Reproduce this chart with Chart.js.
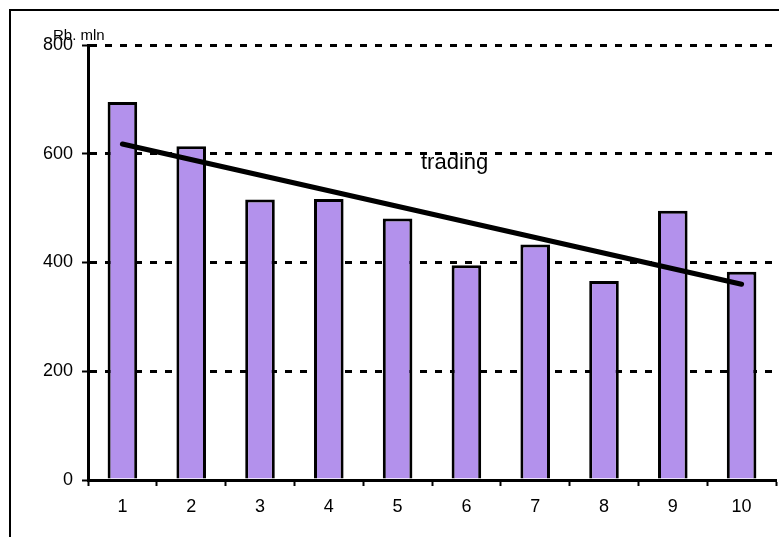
<!DOCTYPE html>
<html><head><meta charset="utf-8">
<script src="https://cdn.jsdelivr.net/npm/chart.js@4/dist/chart.umd.min.js"></script>
<style>html,body{margin:0;padding:0;background:#fff;}canvas{display:block;}</style>
</head><body>
<canvas id="c" width="779" height="537"></canvas>
<script>
const categories = ['1','2','3','4','5','6','7','8','9','10'];
const tradingValues = [695, 614, 516, 517, 481, 395, 433, 366, 495, 383];
const trendValues = [618, null, null, null, null, null, null, null, null, 360];
const yTicks = [0, 200, 400, 600, 800];
const unitLabel = 'Rb. mln';
const seriesLabel = 'trading';

const FONT = "'Liberation Sans', Arial, sans-serif";

const decor = {
  id: 'decor',
  beforeDraw(chart) {
    const ctx = chart.ctx;
    ctx.save();
    ctx.fillStyle = '#fff';
    ctx.fillRect(0, 0, chart.width, chart.height);
    ctx.strokeStyle = '#000';
    ctx.lineWidth = 2;
    ctx.beginPath();
    ctx.moveTo(10, chart.height);
    ctx.lineTo(10, 10);
    ctx.lineTo(chart.width, 10);
    ctx.stroke();
    ctx.restore();
  },
  afterDraw(chart) {
    const ctx = chart.ctx;
    ctx.save();
    ctx.fillStyle = '#000';
    ctx.textBaseline = 'alphabetic';
    ctx.font = '15px ' + FONT;
    ctx.fillText(unitLabel, 53, 40);
    ctx.font = '22px ' + FONT;
    ctx.fillText(seriesLabel, 421, 169);
    ctx.restore();
  }
};

new Chart(document.getElementById('c'), {
  data: {
    labels: categories,
    datasets: [
      {
        type: 'line',
        data: trendValues,
        spanGaps: true,
        borderColor: '#000',
        borderWidth: 5,
        borderCapStyle: 'round',
        pointRadius: 0,
        tension: 0,
        order: 0
      },
      {
        type: 'bar',
        data: tradingValues,
        backgroundColor: '#B391EC',
        borderColor: '#000',
        borderWidth: 3,
        barPercentage: 0.43,
        categoryPercentage: 1,
        order: 1
      }
    ]
  },
  options: {
    responsive: false,
    animation: false,
    events: [],
    layout: { padding: { top: 45, right: 3, left: 0, bottom: 0 } },
    plugins: { legend: { display: false }, tooltip: { enabled: false } },
    scales: {
      x: {
        offset: true,
        grid: { offset: true, drawOnChartArea: false, drawTicks: true, tickLength: 6, tickColor: '#000', tickWidth: 2, tickBorderDash: [] },
        border: { display: true, color: '#000', width: 3 },
        ticks: { color: '#000', font: { family: FONT, size: 18 }, padding: 10, maxRotation: 0 },
        afterFit(s) { s.height = 57; }
      },
      y: {
        min: 0, max: 800,
        afterBuildTicks(s) { s.ticks = yTicks.map(v => ({ value: v })); },
        grid: {
          color: (c) => c.tick && c.tick.value === 0 ? 'rgba(0,0,0,0)' : '#000',
          lineWidth: 3,
          drawTicks: true, tickLength: 6, tickColor: '#000', tickWidth: 2, tickBorderDash: []
        },
        border: { display: true, color: '#000', width: 3, dash: [7, 8] },
        ticks: { color: '#000', font: { family: FONT, size: 18 }, padding: 9 },
        afterFit(s) { s.width = 88; }
      }
    }
  },
  plugins: [decor]
});
</script>
</body></html>
